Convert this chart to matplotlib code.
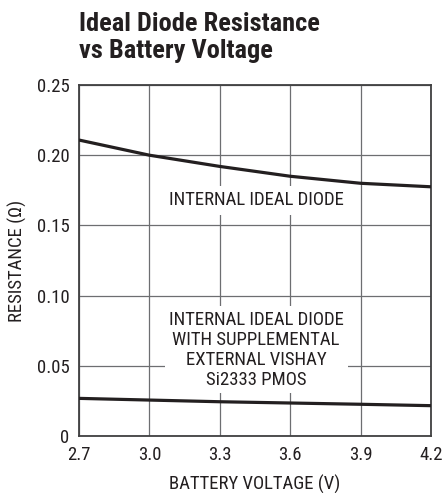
import matplotlib.pyplot as plt

plt.rcParams['font.family'] = ['Roboto Condensed', 'Archivo Narrow', 'PT Sans Narrow',
                               'Liberation Sans', 'DejaVu Sans']

# DATA.
voltage = [2.7, 3.0, 3.3, 3.6, 3.9, 4.2]
r_internal = [0.2108, 0.2000, 0.1920, 0.1850, 0.1800, 0.1775]
r_external = [0.0268, 0.0256, 0.0244, 0.0235, 0.0226, 0.0216]
xticks = [2.7, 3.0, 3.3, 3.6, 3.9, 4.2]
yticks = [0, 0.05, 0.10, 0.15, 0.20, 0.25]
yticklabels = ["0", "0.05", "0.10", "0.15", "0.20", "0.25"]

fig = plt.figure(figsize=(4.43, 4.93), dpi=100)
ax = fig.add_axes([79 / 443, 1 - 436 / 493, 352 / 443, 351 / 493])

ax.plot(voltage, r_internal, color="#231f20", lw=2.3, solid_capstyle="butt", zorder=3)
ax.plot(voltage, r_external, color="#231f20", lw=2.3, solid_capstyle="butt", zorder=3)

ax.set_xlim(2.7, 4.2)
ax.set_ylim(0, 0.25)
ax.set_xticks(xticks)
ax.set_xticklabels([f"{v:.1f}" for v in xticks])
ax.set_yticks(yticks)
ax.set_yticklabels(yticklabels)
ax.tick_params(length=0, labelsize=13.5, colors="#231f20")
ax.tick_params(axis="x", pad=7)
ax.tick_params(axis="y", pad=7)
ax.grid(True, color="#6d6e71", lw=0.9, zorder=1)
for s in ax.spines.values():
    s.set_linewidth(1.3)
    s.set_color("#404041")

ax.set_xlabel("BATTERY VOLTAGE (V)", fontsize=13.5, labelpad=8, color="#231f20")
ax.set_ylabel("RESISTANCE (Ω)", fontsize=13.5, labelpad=7, color="#231f20")

ax.text(3.458, 0.168, "INTERNAL IDEAL DIODE", ha="center", va="center",
        fontsize=13.5, color="#231f20",
        bbox=dict(facecolor="white", edgecolor="none", pad=4), zorder=2)
ax.text(3.455, 0.0615, "INTERNAL IDEAL DIODE\nWITH SUPPLEMENTAL\nEXTERNAL VISHAY\nSi2333 PMOS",
        ha="center", va="center", fontsize=13.5, color="#231f20", linespacing=1.15,
        bbox=dict(facecolor="white", edgecolor="none", pad=3), zorder=2)

fig.text(79 / 443, 1 - 12 / 493, "Ideal Diode Resistance\nvs Battery Voltage",
         ha="left", va="top", fontsize=19, fontweight="bold", color="#231f20",
         linespacing=1.17)

plt.savefig("out.png", dpi=100)
